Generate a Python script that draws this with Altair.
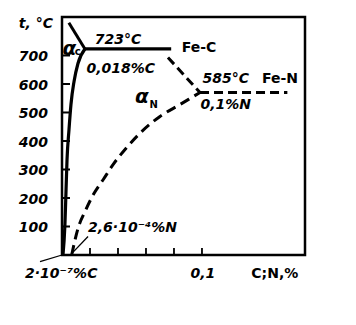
import altair as alt
import pandas as pd

# --- data ---
# alpha-C solvus (solid)
c_x = [0.0007, 0.0021, 0.0029, 0.0036, 0.0050, 0.0064, 0.0086, 0.0114, 0.0164]
c_y = [0, 107, 230, 335, 440, 528, 609, 672, 723]
# upper solid boundary towards eutectoid point
u_x = [0.0049, 0.0164]
u_y = [815, 723]
# eutectoid isotherm Fe-C (solid)
e_x = [0.0164, 0.078]
e_y = [723, 723]
# Fe-N upper dashed boundary
fn_x = [0.0757, 0.0986]
fn_y = [693, 570]
# Fe-N eutectoid isotherm (dashed)
h_x = [0.0986, 0.161]
h_y = [570, 570]
# alpha-N solvus (dashed)
n_x = [0.0069, 0.0116, 0.0164, 0.0224, 0.0295, 0.0366, 0.0462, 0.0569, 0.0700, 0.0843, 0.0986]
n_y = [0, 96, 152, 212, 265, 318, 377, 433, 486, 528, 570]
# pointer lines
p1_x = [-0.0157, 0.0]
p1_y = [-23, 0]
p2_x = [0.0186, 0.0069]
p2_y = [65, 5]

y_ticks = [100, 200, 300, 400, 500, 600, 700]
x_ticks = [0.02, 0.04, 0.06, 0.08, 0.1]

labels = ["723°C", "0,018%C", "Fe-C", "Fe-N", "585°C", "0,1%N",
          "2,6·10⁻⁴%N", "2·10⁻⁷%C", "0,1", "C;N,%", "t, °C"]
lab_x = [0.040, 0.042, 0.0979, 0.1557, 0.117, 0.117, 0.0186, -0.0264, 0.1007, 0.152, -0.0064]
lab_y = [756, 654, 725, 616, 616, 525, 96, -65, -65, -65, 809]
lab_align = ["center", "center", "center", "center", "center", "center",
             "left", "left", "center", "center", "right"]
lab_italic = ["italic", "italic", "normal", "normal", "italic", "italic",
              "italic", "italic", "italic", "normal", "italic"]

greek = ["α", "α"]
greek_x = [0.0052, 0.0570]
greek_y = [724, 553]
sub = ["c", "N"]
sub_x = [0.0112, 0.0655]
sub_y = [713, 527]

XD = [0, 0.1736]
YD = [0, 835]
xs = alt.Scale(domain=XD, nice=False, zero=False)
ys = alt.Scale(domain=YD, nice=False, zero=False)
FONT = "DejaVu Sans"

def line(xv, yv, dash=None, width=3.0, interp="linear"):
    df = pd.DataFrame({"x": xv, "y": yv, "o": list(range(len(xv)))})
    kw = dict(color="black", strokeWidth=width, clip=False, strokeCap="butt",
              interpolate=interp)
    if dash:
        kw["strokeDash"] = dash
    return alt.Chart(df).mark_line(**kw).encode(
        x=alt.X("x:Q", scale=xs, axis=None),
        y=alt.Y("y:Q", scale=ys, axis=None),
        order="o:Q",
    )

layers = [
    line(c_x, c_y, width=3.2, interp="monotone"),
    line(u_x, u_y, width=3.0),
    line(e_x, e_y, width=3.2),
    line(fn_x, fn_y, dash=[9, 5], width=3.0),
    line(h_x, h_y, dash=[9, 5], width=3.0),
    line(n_x, n_y, dash=[10, 6], width=3.0, interp="monotone"),
    line(p1_x, p1_y, width=1.3),
    line(p2_x, p2_y, width=1.3),
]

ytick_df = pd.DataFrame({"v": y_ticks, "lab": [str(v) for v in y_ticks]})
xtick_df = pd.DataFrame({"v": x_ticks})

yt = alt.Chart(ytick_df).mark_rule(color="black", strokeWidth=2).encode(
    y=alt.Y("v:Q", scale=ys, axis=None), x=alt.value(0), x2=alt.value(8))
xt = alt.Chart(xtick_df).mark_rule(color="black", strokeWidth=1.8).encode(
    x=alt.X("v:Q", scale=xs, axis=None), y=alt.value(238), y2=alt.value(231))
ylab = alt.Chart(ytick_df).mark_text(
    font=FONT, fontSize=14, fontStyle="italic", fontWeight="bold",
    align="right", baseline="middle", dx=-14, dy=2, color="black").encode(
    y=alt.Y("v:Q", scale=ys, axis=None), x=alt.value(0), text="lab:N")

lab_df = pd.DataFrame({"t": labels, "x": lab_x, "y": lab_y,
                       "a": lab_align, "s": lab_italic})
texts = []
for al in ["left", "center", "right"]:
    for st in ["italic", "normal"]:
        sub_df = lab_df[(lab_df.a == al) & (lab_df.s == st)]
        if len(sub_df) == 0:
            continue
        texts.append(alt.Chart(sub_df).mark_text(
            font=FONT, fontSize=14, fontStyle=st, fontWeight="bold",
            align=al, baseline="middle", color="black").encode(
            x=alt.X("x:Q", scale=xs, axis=None),
            y=alt.Y("y:Q", scale=ys, axis=None), text="t:N"))

g_df = pd.DataFrame({"t": greek, "x": greek_x, "y": greek_y})
s_df = pd.DataFrame({"t": sub, "x": sub_x, "y": sub_y})
gt = alt.Chart(g_df).mark_text(font=FONT, fontSize=20, fontStyle="italic", fontWeight="bold",
                               align="center", baseline="middle", color="black").encode(
    x=alt.X("x:Q", scale=xs, axis=None), y=alt.Y("y:Q", scale=ys, axis=None), text="t:N")
st_ = alt.Chart(s_df).mark_text(font=FONT, fontSize=10, fontWeight="bold",
                                align="center", baseline="middle", color="black").encode(
    x=alt.X("x:Q", scale=xs, axis=None), y=alt.Y("y:Q", scale=ys, axis=None), text="t:N")

chart = alt.layer(*layers, yt, xt, ylab, *texts, gt, st_).properties(
    width=243, height=238,
    autosize=alt.AutoSizeParams(type="none"),
    padding={"left": 62, "top": 17, "right": 51, "bottom": 70},
    background="white",
).configure_view(stroke="black", strokeWidth=2.5)

chart.save("out.html", embed_options={"renderer": "svg", "actions": False})
